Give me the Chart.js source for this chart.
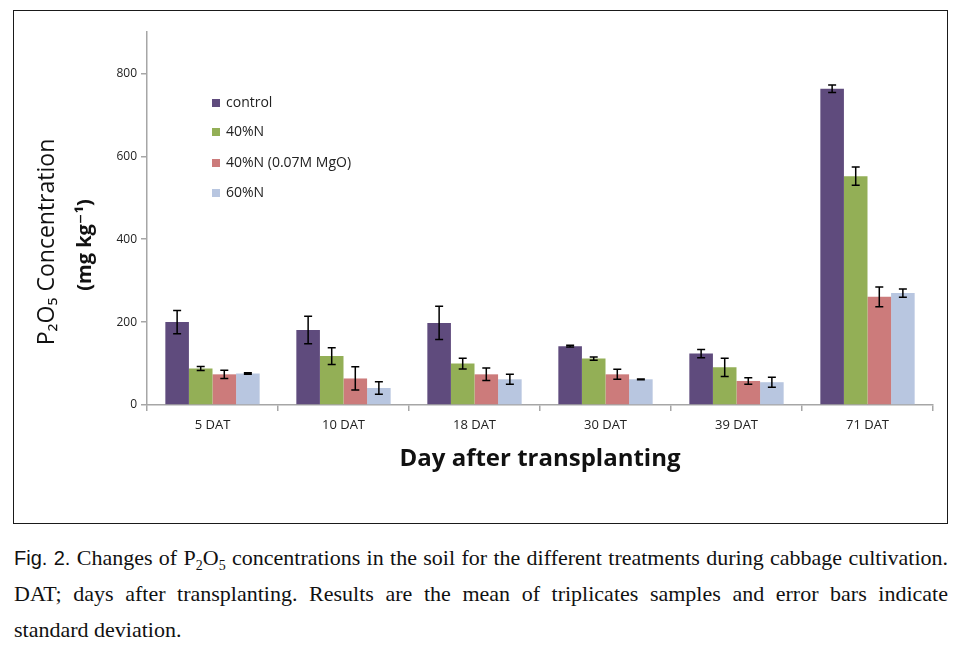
<!DOCTYPE html>
<html>
<head>
<meta charset="utf-8">
<script src="https://cdn.jsdelivr.net/npm/chart.js@4.4.0/dist/chart.umd.min.js"></script>
<style>
  body { margin: 0; background: #fff; width: 961px; height: 652px; position: relative; overflow: hidden; }
  #box { position: absolute; left: 13px; top: 10px; width: 933px; height: 512px; border: 1px solid #1a1a1a; }
  #caption { position: absolute; left: 14px; top: 540px; width: 934px; font-family: "Liberation Serif", "Times New Roman", serif; font-size: 22px; color: #111; }
  .ln { height: 36px; line-height: 36px; white-space: nowrap; text-align: justify; text-align-last: justify; }
  .ln.last { text-align: left; text-align-last: left; }
  .fig { font-family: "Liberation Sans Narrow", "Liberation Sans", sans-serif; font-size: 20px; }
  sub { font-size: 14px; }
</style>
</head>
<body>
<div id="box"><canvas id="chart" width="933" height="512"></canvas></div>
<div id="caption">
  <div class="ln"><span class="fig">Fig. 2.</span> Changes of P<sub>2</sub>O<sub>5</sub> concentrations in the soil for the different treatments during cabbage cultivation.</div>
  <div class="ln">DAT; days after transplanting. Results are the mean of triplicates samples and error bars indicate</div>
  <div class="ln last">standard deviation.</div>
</div>
<script>
// chart data
const categories = ['5 DAT', '10 DAT', '18 DAT', '30 DAT', '39 DAT', '71 DAT'];
const control = [200, 181, 198, 142, 124, 763];
const n40 = [88, 118, 100, 112, 91, 552];
const n40Mg = [74, 64, 74, 74, 58, 261];
const n60 = [76, 41, 62, 62, 55, 270];
// standard deviations (error bars)
const controlSd = [28, 33, 40, 2, 10, 9];
const n40Sd = [5, 20, 13, 4, 22, 22];
const n40MgSd = [10, 28, 15, 12, 8, 24];
const n60Sd = [2, 15, 12, 1, 12, 10];
const yTicks = [0, 200, 400, 600, 800];

const FONT = '"Open Sans", "DejaVu Sans", sans-serif';

// Error bars on top of each bar
const errorBars = {
  id: 'errorBars',
  afterDatasetsDraw(chart) {
    const ctx = chart.ctx;
    const y = chart.scales.y;
    ctx.save();
    ctx.strokeStyle = '#000';
    ctx.lineWidth = 1.5;
    chart.data.datasets.forEach((ds, i) => {
      const meta = chart.getDatasetMeta(i);
      meta.data.forEach((bar, j) => {
        const v = ds.data[j], sd = ds.sd[j];
        const top = y.getPixelForValue(v + sd);
        const bot = y.getPixelForValue(v - sd);
        ctx.beginPath();
        ctx.moveTo(bar.x, top); ctx.lineTo(bar.x, bot);
        ctx.moveTo(bar.x - 4, top); ctx.lineTo(bar.x + 4, top);
        ctx.moveTo(bar.x - 4, bot); ctx.lineTo(bar.x + 4, bot);
        ctx.stroke();
      });
    });
    ctx.restore();
  }
};

// Legend drawn inside the plot, top left
const innerLegend = {
  id: 'innerLegend',
  afterDraw(chart) {
    const ctx = chart.ctx;
    ctx.save();
    ctx.font = '14px ' + FONT;
    ctx.textBaseline = 'middle';
    const rowsY = [92, 121, 152, 182];
    chart.data.datasets.forEach((ds, i) => {
      ctx.fillStyle = ds.backgroundColor;
      ctx.fillRect(198, rowsY[i] - 4, 8, 8);
      ctx.fillStyle = '#222';
      ctx.fillText(ds.label, 212, rowsY[i]);
    });
    ctx.restore();
  }
};

// Two-line y axis title with different weights
const yTitle = {
  id: 'yTitle',
  afterDraw(chart) {
    const ctx = chart.ctx;
    ctx.save();
    ctx.fillStyle = '#111';
    ctx.textAlign = 'center';
    ctx.textBaseline = 'middle';
    ctx.translate(33, 231);
    ctx.rotate(-Math.PI / 2);
    ctx.font = '23px ' + FONT;
    ctx.fillText('P₂O₅ Concentration', 0, 0);
    ctx.font = 'bold 20px ' + FONT;
    ctx.fillText('(mg kg⁻¹)', -3, 38);
    ctx.restore();
  }
};

const ctx = document.getElementById('chart').getContext('2d');
new Chart(ctx, {
  type: 'bar',
  data: {
    labels: categories,
    datasets: [
      { label: 'control', data: control, sd: controlSd, backgroundColor: '#5f4b7d' },
      { label: '40%N', data: n40, sd: n40Sd, backgroundColor: '#93af56' },
      { label: '40%N (0.07M MgO)', data: n40Mg, sd: n40MgSd, backgroundColor: '#cc7b7b' },
      { label: '60%N', data: n60, sd: n60Sd, backgroundColor: '#b8c6e0' }
    ]
  },
  options: {
    responsive: false,
    animation: false,
    categoryPercentage: 0.72,
    barPercentage: 1.0,
    layout: { padding: { left: 0, top: 21, right: 14, bottom: 0 } },
    plugins: { legend: { display: false }, tooltip: { enabled: false } },
    scales: {
      x: {
        grid: { offset: true, drawOnChartArea: false, tickLength: 6, color: '#a6a6a6', lineWidth: 1.5 },
        border: { color: '#a6a6a6', width: 1.5 },
        ticks: { color: '#222', font: { family: FONT, size: 13 }, padding: 6 },
        title: { display: true, text: 'Day after transplanting', color: '#111',
                 font: { family: FONT, size: 24, weight: 'bold' }, padding: { top: 0, bottom: 49 } },
        afterFit(scale) { scale.height = 118; }
      },
      y: {
        min: 0, max: 900,
        grid: { drawOnChartArea: false, tickLength: 6, color: '#a6a6a6', lineWidth: 1.5 },
        border: { color: '#a6a6a6', width: 1.5 },
        ticks: { color: '#222', font: { family: FONT, size: 12 }, padding: 4, includeBounds: false },
        afterBuildTicks(scale) { scale.ticks = yTicks.map(v => ({ value: v })); },
        afterFit(scale) { scale.width = 133; }
      }
    }
  },
  plugins: [errorBars, innerLegend, yTitle]
});
</script>
</body>
</html>
